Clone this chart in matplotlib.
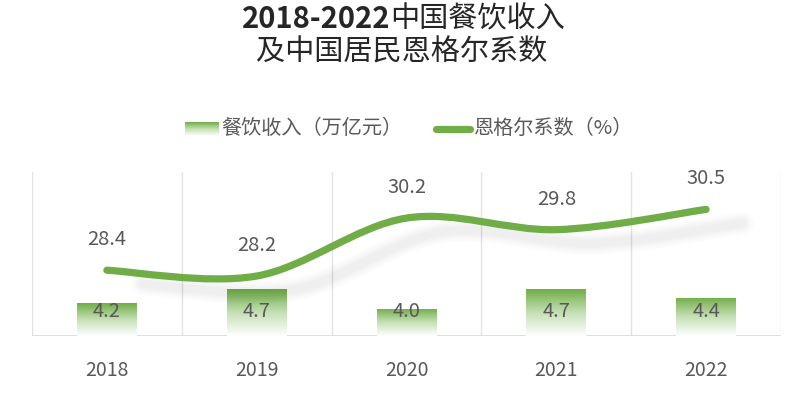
import numpy as np
import matplotlib.pyplot as plt
import matplotlib.patheffects as pe
from matplotlib.path import Path
from matplotlib.patches import PathPatch
from matplotlib.lines import Line2D
from matplotlib.colors import LinearSegmentedColormap
from matplotlib.transforms import blended_transform_factory

plt.rcParams['font.family'] = ['Noto Sans CJK SC', 'DejaVu Sans']

years = ['2018', '2019', '2020', '2021', '2022']
revenue = [4.2, 4.7, 4.0, 4.7, 4.4]          # 万亿元
engel = [28.4, 28.2, 30.2, 29.8, 30.5]       # %

GREEN = '#70AD47'
TXT = '#595959'
grad = LinearSegmentedColormap.from_list('g', ['#ffffff', '#c5e0b4', GREEN])

fig = plt.figure(figsize=(8.03, 3.93), dpi=100)
ax = fig.add_axes([32 / 803, 57 / 393, 749 / 803, 164 / 393])
ax2 = ax.twinx()

x = np.arange(len(years))
ax.set_xlim(-0.5, len(years) - 0.5)
ax.set_ylim(3.02, 8.9)
ax2.set_ylim(26.13, 31.79)

# gradient bars
bars = ax.bar(x, revenue, width=0.4, bottom=0, color='none', zorder=2)
gimg = np.linspace(0, 1, 256).reshape(-1, 1)
for b in bars:
    x0, w, h = b.get_x(), b.get_width(), b.get_height()
    im = ax.imshow(gimg, cmap=grad, aspect='auto', origin='lower',
                   extent=[x0, x0 + w, ax.get_ylim()[0], h], zorder=2)
    im.set_clip_path(b)
for xi, v in zip(x, revenue):
    ax.text(xi, 0.15, f'{v:.1f}', transform=blended_transform_factory(ax.transData, ax.transAxes),
            ha='center', va='center', fontsize=14.5, color=TXT, fontweight='light', zorder=5)

# smooth line (catmull-rom bezier through data points)
pts = np.column_stack([x, engel]).astype(float)
verts = [tuple(pts[0])]
codes = [Path.MOVETO]
for i in range(len(pts) - 1):
    p0 = pts[max(i - 1, 0)]
    p1 = pts[i]
    p2 = pts[i + 1]
    p3 = pts[min(i + 2, len(pts) - 1)]
    c1 = p1 + (p2 - p0) / 6
    c2 = p2 - (p3 - p1) / 6
    verts += [tuple(c1), tuple(c2), tuple(p2)]
    codes += [Path.CURVE4] * 3
path = Path(verts, codes)
shadow = [pe.SimpleLineShadow(offset=(26, -10), shadow_color='#000000', alpha=0.014, linewidth=lw)
          for lw in (16, 12, 9, 6)]
line = PathPatch(path, facecolor='none', edgecolor=GREEN, lw=5.2, capstyle='round',
                 joinstyle='round', zorder=3, path_effects=shadow + [pe.Normal()])
ax2.add_patch(line)
for xi, v in zip(x, engel):
    ax2.annotate(f'{v:.1f}', (xi, v), xytext=(0, 22), textcoords='offset points',
                 ha='center', va='center', fontsize=14.5, color=TXT, fontweight='light')

# grid and axes styling
for gx in np.arange(-0.5, len(years), 1.0):
    ax.axvline(gx, color='#e3e3e3', lw=1, zorder=0)
for a in (ax, ax2):
    for s in a.spines.values():
        s.set_visible(False)
    a.set_yticks([])
ax.axhline(ax.get_ylim()[0], color='#d9d9d9', lw=1.2, zorder=1)
ax.set_xticks(x)
ax.set_xticklabels(years, fontsize=14, color=TXT, fontweight='light')
ax.tick_params(axis='x', length=0, pad=17)

# title (year range bold, rest regular)
fig.text(390 / 803, 1 - 19 / 393, '2018-2022', ha='right', va='center',
         fontsize=21, fontweight='bold', color='#262626')
fig.text(390 / 803, 1 - 19 / 393, '中国餐饮收入', ha='left', va='center',
         fontsize=21, color='#262626')
fig.text(0.5, 1 - 53 / 393, '及中国居民恩格尔系数', ha='center', va='center',
         fontsize=21, color='#262626')

# legend
sw = fig.add_axes([185 / 803, 1 - 136 / 393, 34 / 803, 14 / 393])
sw.imshow(gimg, cmap=grad, aspect='auto', origin='lower', extent=[0, 1, 0, 1])
sw.axis('off')
fig.text(221 / 803, 1 - 128 / 393, '餐饮收入（万亿元）', ha='left', va='center', fontsize=14.5, color=TXT)
fig.add_artist(Line2D([436 / 803, 470 / 803], [1 - 129 / 393] * 2, color=GREEN, lw=5.2,
                      solid_capstyle='round', transform=fig.transFigure))
fig.text(474 / 803, 1 - 128 / 393, '恩格尔系数（%）', ha='left', va='center', fontsize=14.5, color=TXT)

fig.savefig('out.png', dpi=100)
